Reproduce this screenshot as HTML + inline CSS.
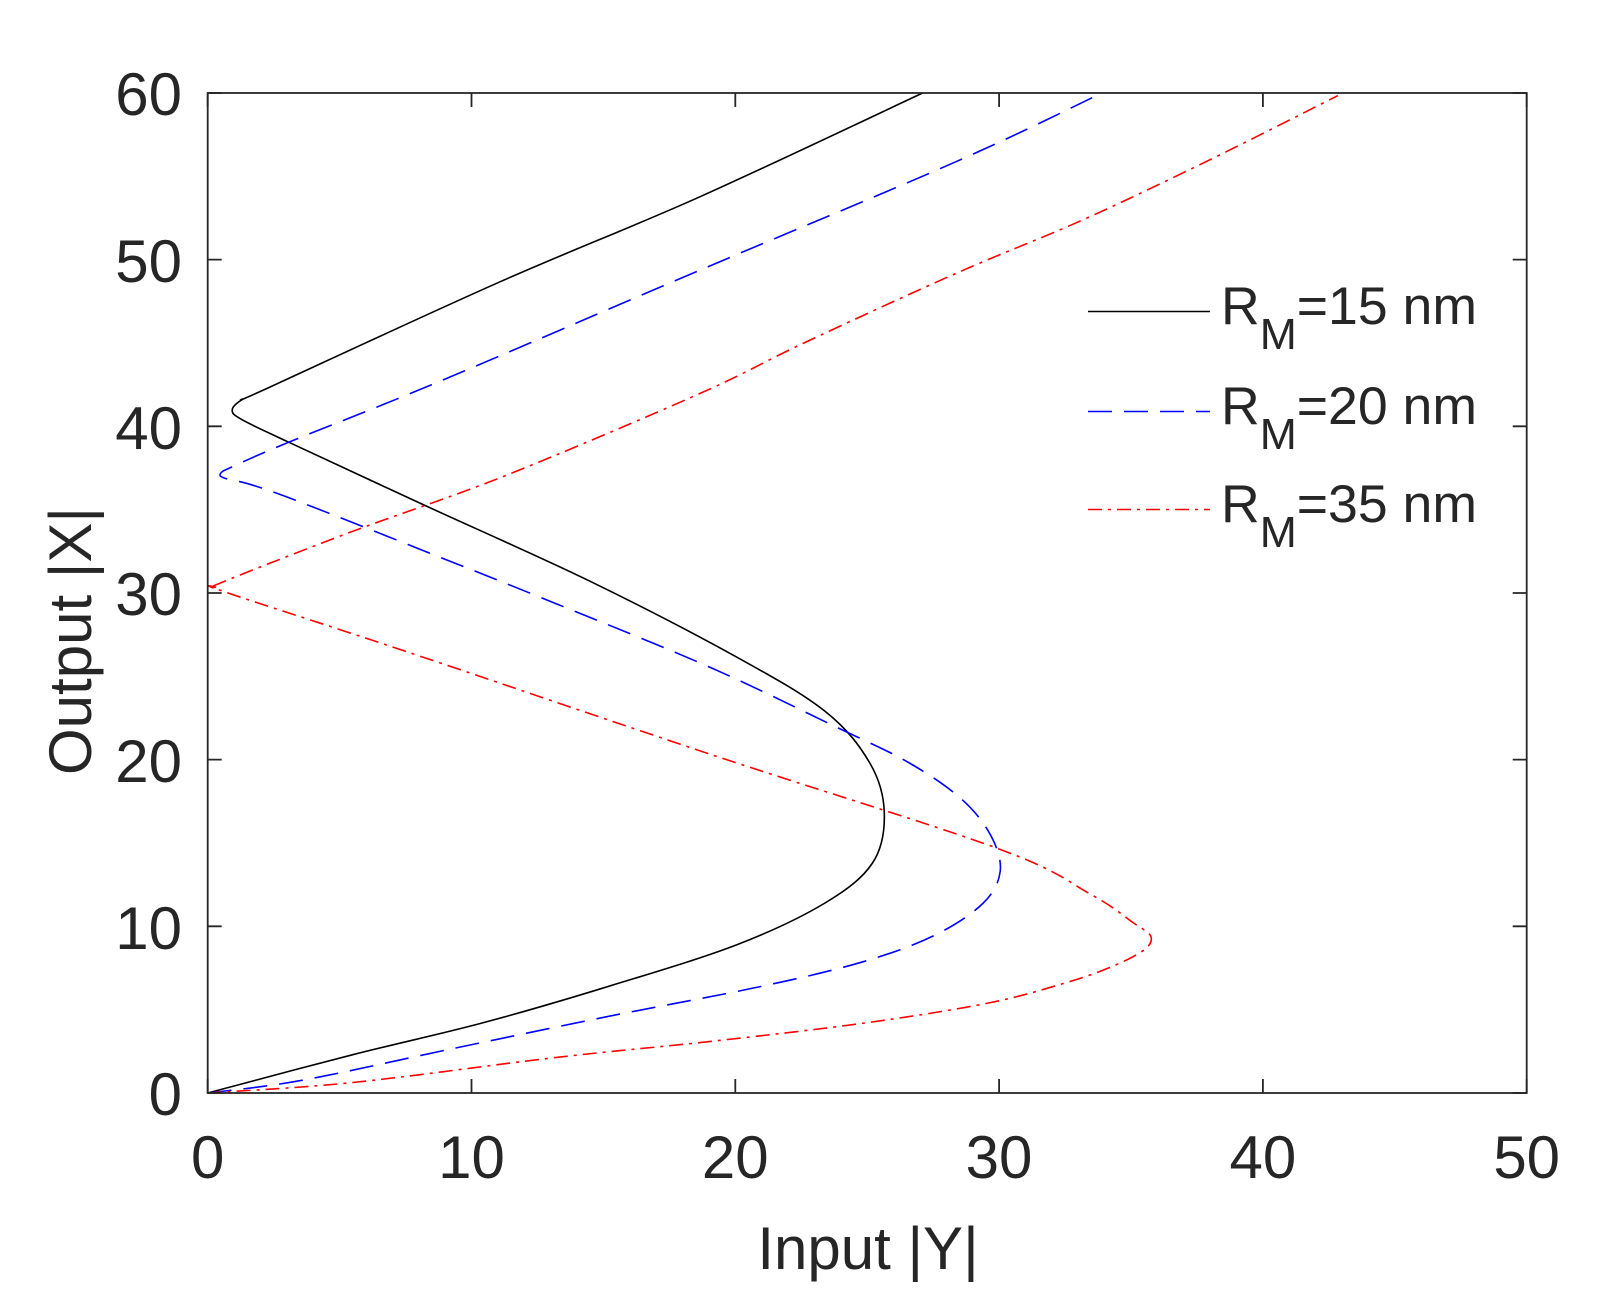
<!DOCTYPE html>
<html><head><meta charset="utf-8">
<style>
html,body{margin:0;padding:0;background:#fff;}
svg{display:block;}
text{font-family:"Liberation Sans",Arial,sans-serif;fill:#262626;}
</style></head>
<body>
<svg id="s" width="1613" height="1309" viewBox="0 0 1613 1309" xmlns="http://www.w3.org/2000/svg">
<rect width="1613" height="1309" fill="#fff"/>
<g id="curves" fill="none" stroke-width="1.6" stroke-linejoin="round"></g>
<g stroke="#262626" stroke-width="1.8" fill="none">
<rect x="207.7" y="93" width="1319" height="1000"/>
<path id="ticks" d=""/>
</g>
<g font-size="60" text-anchor="end">
<text x="182" y="115">60</text>
<text x="182" y="282">50</text>
<text x="182" y="449">40</text>
<text x="182" y="615">30</text>
<text x="182" y="782">20</text>
<text x="182" y="949">10</text>
<text x="182" y="1115">0</text>
</g>
<g font-size="60" text-anchor="middle">
<text x="207.7" y="1178">0</text>
<text x="471.5" y="1178">10</text>
<text x="735.3" y="1178">20</text>
<text x="999" y="1178">30</text>
<text x="1262.9" y="1178">40</text>
<text x="1526.7" y="1178">50</text>
<text x="868" y="1269">Input |Y|</text>
<text transform="translate(91,641) rotate(-90)">Output |X|</text>
</g>
<g stroke-width="1.6">
<line x1="1088" y1="311.5" x2="1210" y2="311.5" stroke="#000"/>
<line x1="1088" y1="411.5" x2="1210" y2="411.5" stroke="#0000ff" stroke-dasharray="24 12"/>
<line x1="1088" y1="509.5" x2="1210" y2="509.5" stroke="#ff0000" stroke-dasharray="14 6 3 6"/>
</g>
<g font-size="53">
<text x="1221" y="324" textLength="256" lengthAdjust="spacingAndGlyphs">R<tspan font-size="44" dy="25">M</tspan><tspan dy="-25">=15 nm</tspan></text>
<text x="1221" y="424" textLength="256" lengthAdjust="spacingAndGlyphs">R<tspan font-size="44" dy="25">M</tspan><tspan dy="-25">=20 nm</tspan></text>
<text x="1221" y="522" textLength="256" lengthAdjust="spacingAndGlyphs">R<tspan font-size="44" dy="25">M</tspan><tspan dy="-25">=35 nm</tspan></text>
</g>
</svg>
<script>
function px(X){return 207.7+X*26.38;}
function py(Y){return 1093-Y*16.667;}
function cr(pts){
  var p=pts.map(function(a){return [px(a[0]),py(a[1])];});
  var d="M"+p[0][0].toFixed(1)+","+p[0][1].toFixed(1);
  for(var i=0;i<p.length-1;i++){
    var p0=p[i>0?i-1:i],p1=p[i],p2=p[i+1],p3=p[i+2<p.length?i+2:i+1];
    var c1=[p1[0]+(p2[0]-p0[0])/6,p1[1]+(p2[1]-p0[1])/6];
    var c2=[p2[0]-(p3[0]-p1[0])/6,p2[1]-(p3[1]-p1[1])/6];
    d+="C"+c1[0].toFixed(1)+","+c1[1].toFixed(1)+" "+c2[0].toFixed(1)+","+c2[1].toFixed(1)+" "+p2[0].toFixed(1)+","+p2[1].toFixed(1);
  }
  return d;
}
var black=[[0,0],[5.5,2.3],[10.4,4.2],[15.2,6.4],[20.06,8.9],[23.4,11.4],[25.2,13.8],[25.65,16.8],[25.1,19.8],[23.4,22.9],[20.0,26.2],[14.5,30.7],[8.24,35.25],[3.0,39.1],[1.3,40.4],[0.93,40.97],[1.3,41.6],[2.24,42.27],[11.08,48.67],[18.7,53.8],[27.1,60]];
var blue=[[0,0],[3.6,0.77],[9.4,2.7],[15.2,4.6],[21.0,6.4],[24.9,7.9],[27.6,9.5],[29.4,11.4],[30.04,13.3],[29.7,15.4],[28.6,17.6],[26.6,19.8],[23.9,21.9],[19.1,25.5],[13.3,29.3],[8.4,32.4],[3.6,35.4],[1.65,36.5],[0.62,36.9],[0.5,37.2],[0.97,37.6],[3.0,39.0],[8.8,42.7],[18.7,49.4],[28.4,55.9],[33.9,60]];
var red=[[0,0],[5.5,0.63],[13.3,2.15],[19.1,3.1],[24.9,4.2],[29.6,5.4],[32.5,6.6],[34.3,7.6],[35.5,8.6],[35.75,9.4],[35.1,10.2],[33.5,11.9],[29.9,14.7],[19.1,20.3],[7.5,26.5],[0.58,30.1],[0.4,30.35],[0.48,30.6],[5.5,33.7],[11.3,37.05],[18.7,42.0],[22.6,45.0],[28.4,49.2],[33.2,52.4],[38.05,56.04],[42.84,59.84]];
var ns="http://www.w3.org/2000/svg",g=document.getElementById("curves");
[[black,"#000",null],[blue,"#0000ff","24 12"],[red,"#ff0000","14 6 3 6"]].forEach(function(c){
  var e=document.createElementNS(ns,"path");
  e.setAttribute("d",cr(c[0]));e.setAttribute("stroke",c[1]);
  if(c[2])e.setAttribute("stroke-dasharray",c[2]);
  g.appendChild(e);
});
var t="";
for(var i=0;i<=5;i++){var x=px(i*10);t+="M"+x+",1093v-14M"+x+",93v14";}
for(var j=0;j<=6;j++){var y=py(j*10);t+="M207.7,"+y+"h14M1526.7,"+y+"h-14";}
document.getElementById("ticks").setAttribute("d",t);
</script>
</body></html>
